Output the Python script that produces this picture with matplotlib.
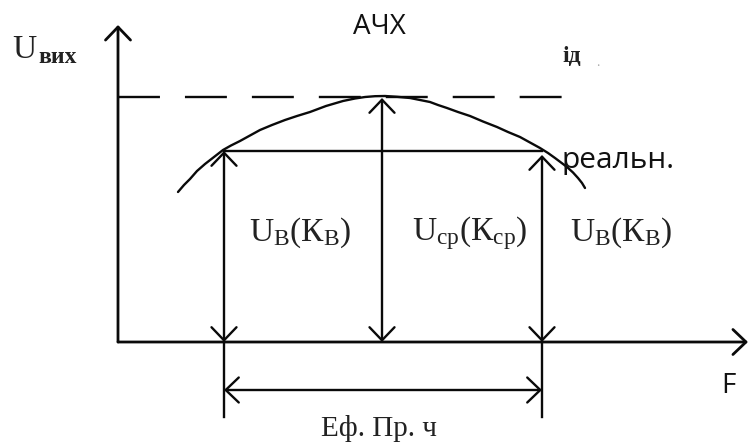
import matplotlib
matplotlib.use("Agg")
import matplotlib.pyplot as plt

plt.rcParams['lines.scale_dashes'] = False
plt.rcParams['mathtext.fontset'] = 'custom'
plt.rcParams['mathtext.rm'] = 'Liberation Serif'
plt.rcParams['mathtext.it'] = 'Liberation Serif:italic'
plt.rcParams['mathtext.bf'] = 'Liberation Serif:bold'

# ---- data (pixel-space schematic values) ----
curve_x = [178, 184, 190, 197, 205, 214, 223, 231, 240, 250, 260, 272, 285, 297, 310, 326, 343, 355, 365, 375, 385, 397,
           410, 420, 430, 438, 447, 458, 470, 483, 497, 508, 520, 530, 540, 548, 555, 561, 567, 573, 578, 582, 585]
curve_y = [192, 185, 179, 171, 164, 157, 150, 145.5, 141, 135.5, 130, 125, 120, 116, 112, 106, 101, 98.5, 97, 96.2, 96, 96.8,
           98, 100, 102, 105, 108, 112, 116, 121.5, 127, 132, 137, 142.5, 148, 153, 158, 162.5, 167, 172.5, 178, 183, 188]
origin = (118, 342)
axis_ends = (25, 748)          # y-axis top, x-axis right end
ideal_level = 97
ideal_span = (118, 562)
band_edges = [224, 542]
band_tops = [151, 155]
mid_x = 382
band_level = 151
bracket_y = 390
tick_bottom = 417
labels_mid = [r'$\mathrm{U_{В}(К_{В})}$', r'$\mathrm{U_{ср}(К_{ср})}$', r'$\mathrm{U_{В}(К_{В})}$']
labels_mid_x = [300, 470, 621]
labels_mid_y = 233

fig = plt.figure(figsize=(7.5, 4.43), dpi=100)
ax = fig.add_axes([0, 0, 1, 1])
ax.set_xlim(0, 750)
ax.set_ylim(443, 0)
ax.axis('off')

LW = 1.7
AX_LW = 2.0
col = '#0a0a0a'
arrow_kw = dict(mutation_scale=20, shrinkA=0, shrinkB=0)

def arrow(x0, y0, x1, y1, style, lw=LW):
    ax.annotate('', xy=(x1, y1), xytext=(x0, y0),
                arrowprops=dict(arrowstyle=style + ',head_length=0.47,head_width=0.45',
                                lw=lw, color=col, **arrow_kw))

# axes
arrow(origin[0], origin[1], origin[0], axis_ends[0], '->', AX_LW)
arrow(origin[0], origin[1], axis_ends[1], origin[1], '->', AX_LW)

# ideal dashed line
ax.plot(ideal_span, [ideal_level, ideal_level], color=col, lw=LW,
        dashes=(30.2, 18.0), solid_capstyle='butt', dash_capstyle='butt')

# real curve
ax.plot(curve_x, curve_y, color=col, lw=LW, solid_joinstyle='round', solid_capstyle='round')

# horizontal band line
ax.plot(band_edges, [band_level, band_level], color=col, lw=LW)

# vertical double arrows
for bx, bt in zip(band_edges, band_tops):
    arrow(bx, origin[1], bx, bt, '<->')
    ax.plot([bx, bx], [origin[1], tick_bottom], color=col, lw=LW)
arrow(mid_x, origin[1], mid_x, ideal_level + 1, '<->')

# bandwidth bracket
arrow(band_edges[0], bracket_y, band_edges[1], bracket_y, '<->')

# texts
serif = 'Liberation Serif'
sans = ['Open Sans', 'DejaVu Sans']
ax.text(12, 58, 'U', fontsize=24, family=serif, color='#222222', va='baseline', ha='left')
ax.text(38, 63, 'вих', fontsize=17, family=serif, fontweight='bold', color='#222222', va='baseline', ha='left')
ax.text(379, 27, 'АЧХ', fontsize=20, family=sans, color='#111111', va='center', ha='center')
ax.text(562, 62, 'ід', fontsize=17, family=serif, fontweight='bold', color='#222222', va='baseline', ha='left')
ax.text(596, 66, '.', fontsize=10, family=serif, color='#aaaaaa', va='baseline', ha='left')
ax.text(562, 168, 'реальн.', fontsize=21.5, family=sans, color='#111111', va='baseline', ha='left')
ax.text(721, 393, 'F', fontsize=20, family=sans, color='#111111', va='baseline', ha='left')
for t, x in zip(labels_mid, labels_mid_x):
    ax.text(x, labels_mid_y, t, fontsize=24, color='#222222', va='center', ha='center')
ax.text(379, 428, 'Еф. Пр. ч', fontsize=21, family=serif, color='#222222', va='center', ha='center')

fig.savefig('out.png', dpi=100)
